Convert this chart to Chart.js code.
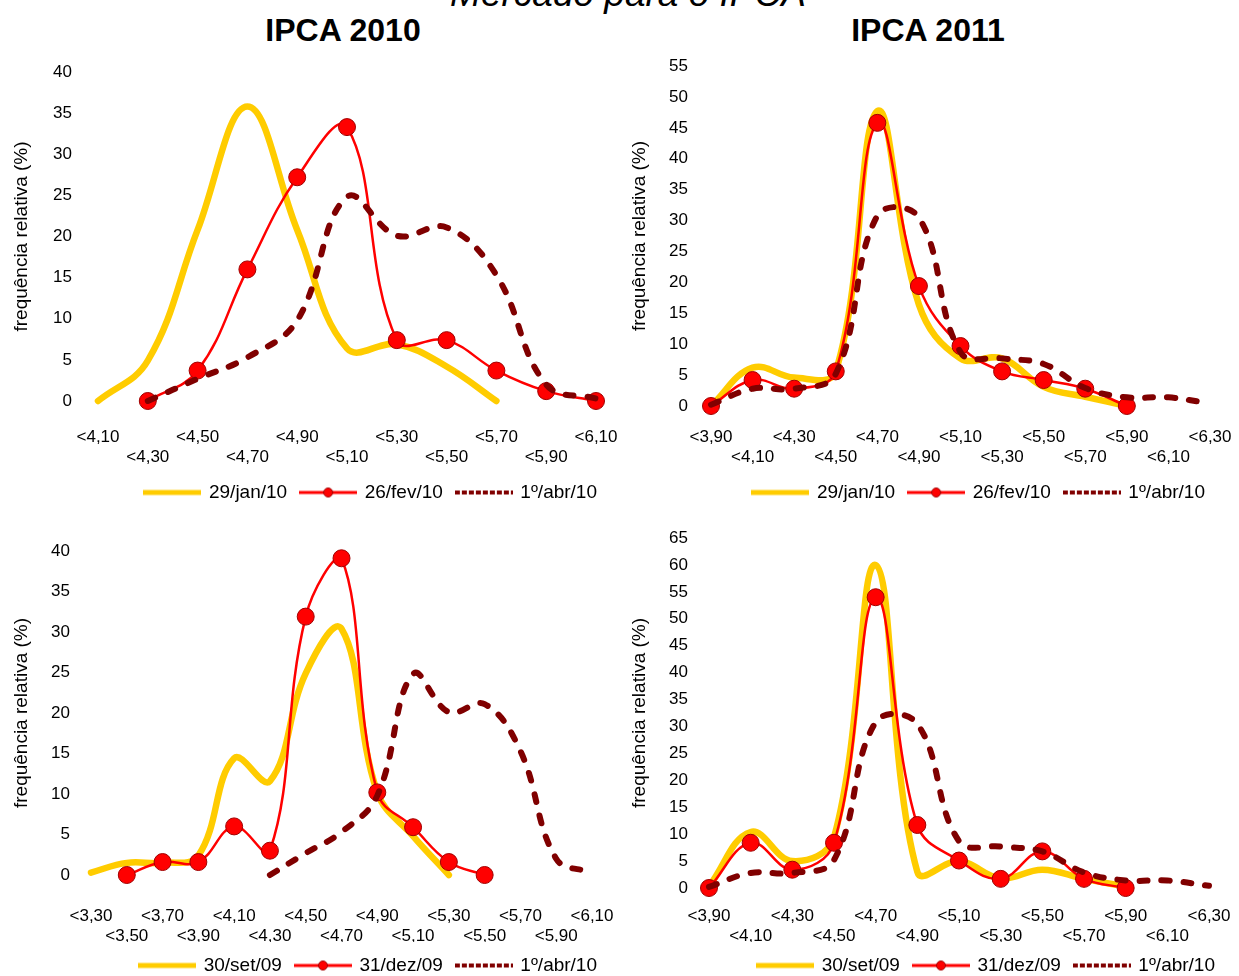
<!DOCTYPE html>
<html>
<head>
<meta charset="utf-8">
<script src="https://cdn.jsdelivr.net/npm/chart.js@4.4.1/dist/chart.umd.min.js"></script>
<style>
  html, body { margin: 0; padding: 0; background: #fff; overflow: hidden; width: 1239px; height: 976px; }
  body { position: relative; font-family: 'Liberation Sans', Arial, sans-serif; color: #000; }
  .box { position: absolute; }
  .box canvas { display: block; }
  #mainTitle { position: absolute; left: 0; width: 1256px; top: -25px; text-align: center; font-style: italic; font-size: 37px; line-height: 37px; white-space: nowrap; }
  .hdr { position: absolute; width: 400px; top: 14px; text-align: center; font-weight: bold; font-size: 32px; line-height: 32px; }
</style>
</head>
<body>
<div id="mainTitle">Mercado para o IPCA</div>
<div class="hdr" style="left:143px">IPCA 2010</div>
<div class="hdr" style="left:728px">IPCA 2011</div>
<div class="box" style="left:0px;top:50px"><canvas id="cTL" width="620" height="470" style="width:620px;height:470px"></canvas></div>
<div class="box" style="left:620px;top:40px"><canvas id="cTR" width="619" height="480" style="width:619px;height:480px"></canvas></div>
<div class="box" style="left:0px;top:520px"><canvas id="cBL" width="620" height="475" style="width:620px;height:475px"></canvas></div>
<div class="box" style="left:620px;top:510px"><canvas id="cBR" width="619" height="480" style="width:619px;height:480px"></canvas></div>
<script>
// ---------------- DATA ----------------
const yAxisTitle = 'frequência relativa (%)';
const namesTop = ['29/jan/10', '26/fev/10', '1º/abr/10'];
const namesBottom = ['30/set/09', '31/dez/09', '1º/abr/10'];

// IPCA 2010 (top-left)
const catsTL = ['<4,10','<4,30','<4,50','<4,70','<4,90','<5,10','<5,30','<5,50','<5,70','<5,90','<6,10'];
const tl_29jan10 = [0, 4.9, 20.8, 35.8, 20.8, 6.4, 6.9, 4.2, 0, null, null];
const tl_26fev10 = [null, 0, 3.7, 16.0, 27.2, 33.3, 7.4, 7.4, 3.7, 1.2, 0];
const tl_01abr10 = [null, 0, 2.7, 5.3, 9.8, 24.8, 20.1, 21.1, 15.3, 2.0, 0.3];

// IPCA 2011 (top-right)
const catsTR = ['<3,90','<4,10','<4,30','<4,50','<4,70','<4,90','<5,10','<5,30','<5,50','<5,70','<5,90','<6,10','<6,30'];
const tr_29jan10 = [0, 6.2, 4.6, 5.6, 47.7, 16.4, 7.7, 7.7, 3.1, 1.5, 0, null, null];
const tr_26fev10 = [0, 4.2, 2.8, 5.6, 45.8, 19.4, 9.7, 5.6, 4.2, 2.8, 0, null, null];
const tr_01abr10 = [0.2, 2.8, 2.8, 5.2, 30.8, 30.5, 8.7, 7.7, 6.8, 2.9, 1.4, 1.4, 0.4];

// IPCA 2010 (bottom-left)
const catsBL = ['<3,30','<3,50','<3,70','<3,90','<4,10','<4,30','<4,50','<4,70','<4,90','<5,10','<5,30','<5,50','<5,70','<5,90','<6,10'];
const bl_30set09 = [0.3, 1.5, 1.5, 2.4, 14.4, 11.6, 24.9, 30.4, 10.2, 4.8, 0, null, null, null, null];
const bl_31dez09 = [null, 0, 1.6, 1.6, 6.0, 3.0, 31.9, 39.1, 10.2, 5.9, 1.6, 0, null, null, null];
const bl_01abr10 = [null, null, null, null, null, 0, 2.7, 5.3, 9.8, 24.8, 20.1, 21.1, 15.3, 2.0, 0.3];

// IPCA 2011 (bottom-right)
const catsBR = ['<3,90','<4,10','<4,30','<4,50','<4,70','<4,90','<5,10','<5,30','<5,50','<5,70','<5,90','<6,10','<6,30'];
const br_30set09 = [0.3, 10.4, 5.0, 9.4, 60.0, 3.0, 5.0, 1.8, 3.4, 1.7, 0.3, null, null];
const br_31dez09 = [0, 8.4, 3.4, 8.4, 54.0, 11.7, 5.1, 1.7, 6.8, 1.7, 0, null, null];
const br_01abr10 = [0.2, 2.8, 2.8, 5.2, 30.8, 30.5, 8.7, 7.7, 6.8, 2.9, 1.4, 1.4, 0.4];

const yMaxTL = 40, yMaxTR = 55, yMaxBL = 40, yMaxBR = 65;

// ---------------- STYLE ----------------
const FONT = "'Liberation Sans', Arial, sans-serif";
const YELLOW = '#FFCC00', RED = '#FF0000', DARK = '#800000';
const TENSION = 0.4;

function legendSample(kind) {
  const c = document.createElement('canvas');
  c.width = 58; c.height = 12;
  const g = c.getContext('2d');
  g.beginPath(); g.moveTo(0, 6); g.lineTo(58, 6);
  if (kind === 0) { g.strokeStyle = YELLOW; g.lineWidth = 5; g.stroke(); }
  else if (kind === 1) {
    g.strokeStyle = RED; g.lineWidth = 3; g.stroke();
    g.beginPath(); g.arc(29, 6, 4.5, 0, Math.PI * 2);
    g.fillStyle = RED; g.fill(); g.strokeStyle = '#A00000'; g.lineWidth = 1; g.stroke();
  } else { g.strokeStyle = DARK; g.lineWidth = 4; g.setLineDash([5, 2]); g.stroke(); }
  return c;
}
const samples = [legendSample(0), legendSample(1), legendSample(2)];

const legendShift = {
  id: 'legendShift',
  afterLayout(chart, args, opts) {
    const l = chart.legend;
    if (l && opts && opts.dx) { l.left += opts.dx; l.right += opts.dx; }
  }
};

function buildChart(id, cats, series, names, yMax, L) {
  return new Chart(document.getElementById(id), {
    type: 'line',
    data: {
      labels: cats,
      datasets: [
        { label: names[0], data: series[0], borderColor: YELLOW, backgroundColor: YELLOW, borderWidth: 6.5,
          pointRadius: 0, pointHoverRadius: 0, tension: TENSION, fill: false, order: 3, clip: false,
          borderCapStyle: 'round', borderJoinStyle: 'round' },
        { label: names[1], data: series[1], borderColor: RED, backgroundColor: RED, borderWidth: 2.5,
          pointRadius: 8.5, pointHoverRadius: 8.5, pointBackgroundColor: RED, pointBorderColor: '#A00000', pointBorderWidth: 1,
          tension: TENSION, fill: false, order: 2, clip: false },
        { label: names[2], data: series[2], borderColor: DARK, backgroundColor: DARK, borderWidth: 6,
          borderDash: [8, 14], borderCapStyle: 'round', pointRadius: 0, pointHoverRadius: 0,
          tension: TENSION, fill: false, order: 1, clip: false }
      ]
    },
    options: {
      responsive: false, animation: false, devicePixelRatio: 1, events: [],
      layout: { padding: { left: 0, right: L.padRight, top: L.padTop, bottom: L.padBottom } },
      scales: {
        x: {
          type: 'category', offset: false,
          grid: { display: false, drawTicks: false }, border: { display: false },
          ticks: {
            autoSkip: false, maxRotation: 0, minRotation: 0, padding: L.xPad, color: '#000',
            font: { family: FONT, size: 17, lineHeight: 1.18 },
            callback: function (v, i) { const t = this.getLabelForValue(v); return i % 2 === 0 ? [t, ''] : ['', t]; }
          },
          afterFit: s => { s.height = L.xHeight; s.paddingLeft = 0; s.paddingRight = 0; }
        },
        y: {
          min: 0, max: yMax,
          grid: { display: false, drawTicks: false }, border: { display: false },
          ticks: { stepSize: 5, padding: L.yPad, color: '#000', font: { family: FONT, size: 17 } },
          title: { display: true, text: yAxisTitle, color: '#000', font: { family: FONT, size: 19 },
                   padding: { top: L.titlePad, bottom: 0 } },
          afterFit: s => { s.width = L.yWidth; s.paddingTop = 0; s.paddingBottom = 0; }
        }
      },
      plugins: {
        tooltip: { enabled: false },
        legend: {
          display: true, position: 'bottom', align: 'end',
          labels: {
            usePointStyle: true, pointStyleWidth: 54, boxHeight: 12, padding: 14, color: '#000',
            font: { family: FONT, size: 19 },
            generateLabels: chart => chart.data.datasets.map((ds, i) => ({
              text: ds.label, pointStyle: samples[i], datasetIndex: i, hidden: false,
              fillStyle: ds.borderColor, strokeStyle: ds.borderColor, lineWidth: 0, fontColor: '#000'
            }))
          }
        },
        legendShift: { dx: L.legendDx }
      }
    },
    plugins: [legendShift]
  });
}

buildChart('cTL', catsTL, [tl_29jan10, tl_26fev10, tl_01abr10], namesTop, yMaxTL,
  { padRight: 24, padTop: 22, padBottom: 8, xHeight: 68, xPad: 26, yWidth: 98, yPad: 26, titlePad: 10, legendDx: 15 });
buildChart('cTR', catsTR, [tr_29jan10, tr_26fev10, tr_01abr10], namesTop, yMaxTR,
  { padRight: 29, padTop: 26, padBottom: 8, xHeight: 63, xPad: 21, yWidth: 91, yPad: 23, titlePad: 8, legendDx: 9 });
buildChart('cBL', catsBL, [bl_30set09, bl_31dez09, bl_01abr10], namesBottom, yMaxBL,
  { padRight: 28, padTop: 31, padBottom: 10, xHeight: 67, xPad: 31, yWidth: 91, yPad: 21, titlePad: 10, legendDx: 19 });
buildChart('cBR', catsBR, [br_30set09, br_31dez09, br_01abr10], namesBottom, yMaxBR,
  { padRight: 30, padTop: 28, padBottom: 5, xHeight: 54, xPad: 18, yWidth: 89, yPad: 21, titlePad: 8, legendDx: 20 });
</script>
</body>
</html>
